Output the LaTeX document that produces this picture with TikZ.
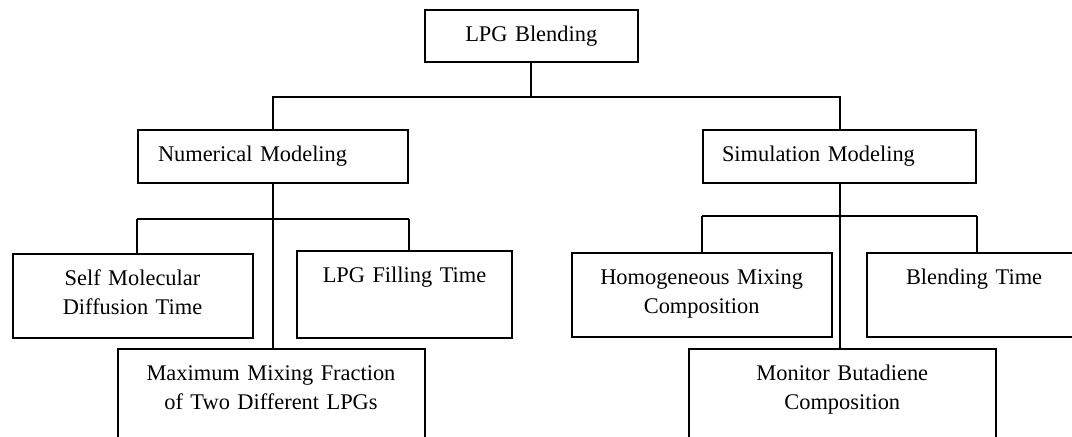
\documentclass[tikz,border=0pt]{standalone}
\usepackage{fontspec}
\setmainfont{Liberation Serif}
\begin{document}
\begin{tikzpicture}[
          x=0.5pt, y=-0.5pt, line width=1pt,
          font=\fontsize{11.2}{14.5}\selectfont,
          box/.style={draw, inner sep=0pt, anchor=north west, text height=15.5pt, align=center}
        ]
        \useasboundingbox (0,0) rectangle (1072,436);
        \clip (0,0) rectangle (1072,436);

        \node[box, text width=106.75pt, text depth=10.5pt] (lpg) at (423.5,9) {LPG Blending};

        \node[box, align=left, inner xsep=10pt, text width=115pt, text depth=11pt] (num) at (137,129) {Numerical Modeling};
        \node[box, align=left, inner xsep=9.5pt, text width=117.5pt, text depth=11pt] (sim) at (702,129) {Simulation Modeling};

        \node[box, text width=120pt, text depth=26.5pt] (self) at (11.5,253) {Self Molecular\\Diffusion Time};
        \node[box, text width=107.5pt, text depth=28pt] (fill) at (296,250) {LPG Filling Time};
        \node[box, text width=153.5pt, text depth=60pt] (maxmix) at (116.5,348) {Maximum Mixing Fraction\\of Two Different LPGs};

        \node[box, text width=130.2pt, text depth=26.5pt] (homog) at (570.5,252) {Homogeneous Mixing\\Composition};
        \node[box, align=left, inner xsep=19.5pt, text width=78pt, text depth=26.5pt] (btime) at (866,252) {Blending Time};
        \node[box, text width=153.8pt, text depth=60pt] (mon) at (687.5,348) {Monitor Butadiene\\Composition};

        \draw (lpg.south) -- ++(0,34) coordinate (top);
        \draw (num.north) |- (top) -| (sim.north);

        \draw (num.south) -- (num.south |- maxmix.north);
        \draw ([yshift=-17.5pt]num.south west) coordinate (nl) -- ([yshift=-17.5pt]num.south east) coordinate (nr);
        \draw (nl) -- (nl |- self.north);
        \draw (nr) -- (nr |- fill.north);

        \draw (sim.south) -- (sim.south |- mon.north);
        \draw ([yshift=-16pt]sim.south west) coordinate (sl) -- ([yshift=-16pt]sim.south east) coordinate (sr);
        \draw (sl) -- (sl |- homog.north);
        \draw (sr) -- (sr |- btime.north);

        \end{tikzpicture}
\end{document}
